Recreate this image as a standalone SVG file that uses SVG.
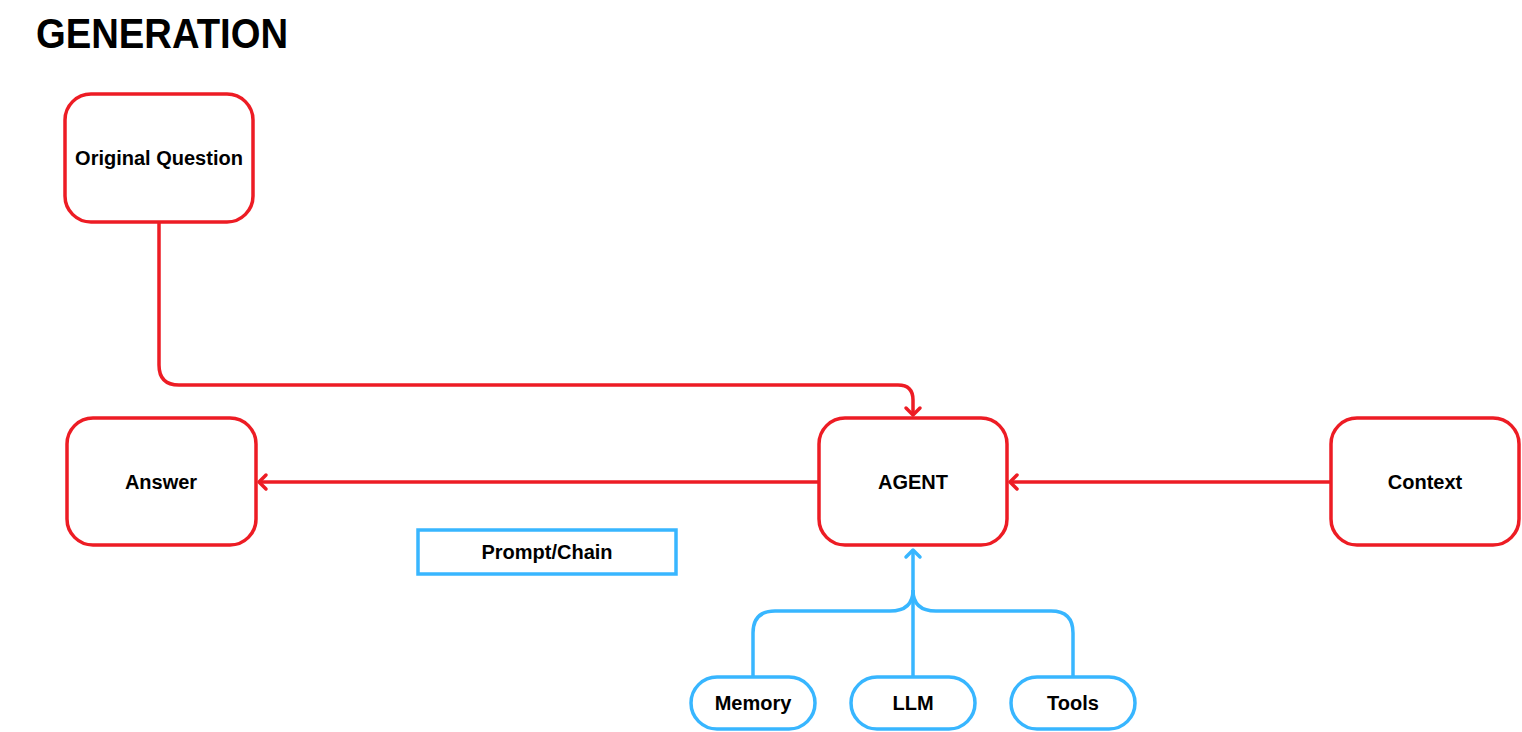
<svg xmlns="http://www.w3.org/2000/svg" width="1522" height="732" viewBox="0 0 1522 732">
<style>
.red{fill:#fff;stroke:#ED1C24;stroke-width:3.5}
.blue{fill:#fff;stroke:#38B6FF;stroke-width:3.5}
.lbl{font-family:"Liberation Sans",Arial,sans-serif;font-weight:bold;font-size:20px;fill:#000;text-anchor:middle;dominant-baseline:central}
.cr{fill:none;stroke:#ED1C24;stroke-width:3.5}
.cb{fill:none;stroke:#38B6FF;stroke-width:3.5}
</style>
<defs>
<marker id="ar" markerUnits="userSpaceOnUse" markerWidth="20" markerHeight="20" refX="12" refY="10" orient="auto">
<polyline points="5,3 12,10 5,17" fill="none" stroke="#ED1C24" stroke-width="3.5" stroke-linecap="round" stroke-linejoin="round"/>
</marker>
<marker id="ab" markerUnits="userSpaceOnUse" markerWidth="20" markerHeight="20" refX="12" refY="10" orient="auto">
<polyline points="5,3 12,10 5,17" fill="none" stroke="#38B6FF" stroke-width="3.5" stroke-linecap="round" stroke-linejoin="round"/>
</marker>
</defs>
<rect width="1522" height="732" fill="#fff"/>
<text x="36" y="48" font-family="'Liberation Sans',Arial,sans-serif" font-weight="bold" font-size="42" textLength="252" lengthAdjust="spacingAndGlyphs" fill="#000">GENERATION</text>
<g id="connectors">
<path class="cr" d="M159,222 V365 Q159,385 179,385 H898 Q913,385 913,400 V415" marker-end="url(#ar)"/>
<path class="cr" d="M819,482 H259" marker-end="url(#ar)"/>
<path class="cr" d="M1331,482 H1010" marker-end="url(#ar)"/>
<path class="cb" d="M913,676 V550" marker-end="url(#ab)"/>
<path class="cb" d="M753,676 V633 Q753,611 775,611 H890 Q913,611 913,590"/>
<path class="cb" d="M1073,676 V633 Q1073,611 1051,611 H936 Q913,611 913,590"/>
</g>
<g id="original-question">
<rect class="red" x="65" y="94" width="188" height="128" rx="26"/>
<text class="lbl" x="159" y="158">Original Question</text>
</g>
<g id="answer">
<rect class="red" x="67" y="418" width="189" height="127" rx="26"/>
<text class="lbl" x="161" y="482">Answer</text>
</g>
<g id="agent">
<rect class="red" x="819" y="418" width="188" height="127" rx="26"/>
<text class="lbl" x="913" y="482">AGENT</text>
</g>
<g id="context">
<rect class="red" x="1331" y="418" width="188" height="127" rx="26"/>
<text class="lbl" x="1425" y="482">Context</text>
</g>
<g id="prompt-chain">
<rect class="blue" x="418" y="530" width="258" height="44"/>
<text class="lbl" x="547" y="552">Prompt/Chain</text>
</g>
<g id="memory">
<rect class="blue" x="691" y="677" width="124" height="52" rx="26"/>
<text class="lbl" x="753" y="703">Memory</text>
</g>
<g id="llm">
<rect class="blue" x="851" y="677" width="124" height="52" rx="26"/>
<text class="lbl" x="913" y="703">LLM</text>
</g>
<g id="tools">
<rect class="blue" x="1011" y="677" width="124" height="52" rx="26"/>
<text class="lbl" x="1073" y="703">Tools</text>
</g>
</svg>
